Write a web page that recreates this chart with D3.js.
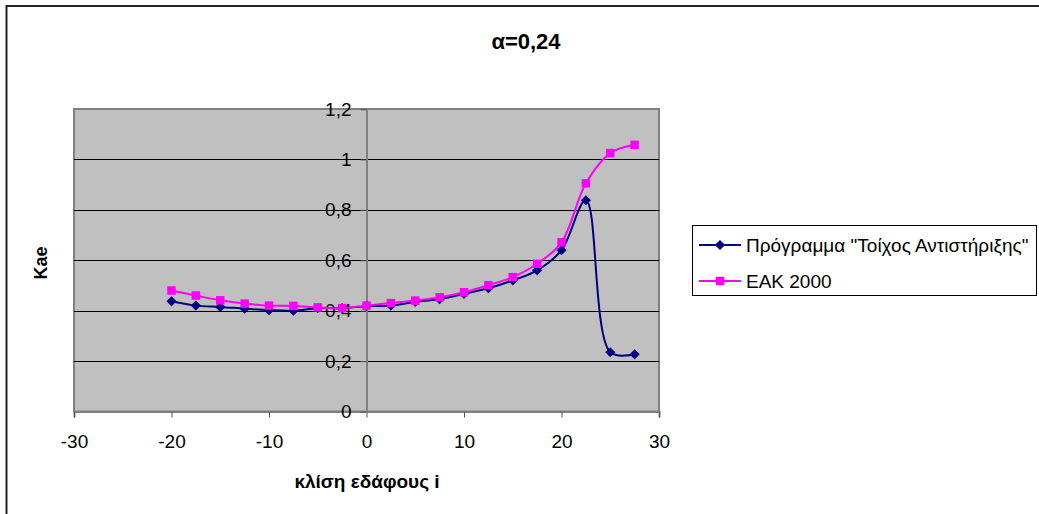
<!DOCTYPE html>
<html>
<head>
<meta charset="utf-8">
<script src="https://cdn.jsdelivr.net/npm/d3@7"></script>
<style>
  body { margin: 0; background: #fff; }
  text { font-family: "Liberation Sans", Arial, sans-serif; }
</style>
</head>
<body>
<svg width="1039" height="514"></svg>
<script>
// Data
var slopes = [-20, -17.5, -15, -12.5, -10, -7.5, -5, -2.5, 0, 2.5, 5, 7.5, 10, 12.5, 15, 17.5, 20, 22.5, 25, 27.5];
var programValues = [0.437, 0.42, 0.415, 0.408, 0.402, 0.40, 0.41, 0.41, 0.418, 0.42, 0.435, 0.446, 0.467, 0.489, 0.52, 0.56, 0.64, 0.838, 0.235, 0.227];
var eakValues = [0.48, 0.46, 0.441, 0.428, 0.42, 0.419, 0.413, 0.41, 0.42, 0.43, 0.44, 0.453, 0.473, 0.501, 0.533, 0.586, 0.671, 0.905, 1.025, 1.058];
var seriesNames = ["Πρόγραμμα \"Τοίχος Αντιστήριξης\"", "ΕΑΚ 2000"];
var xTicks = [-30, -20, -10, 0, 10, 20, 30];
var yTicks = [0, 0.2, 0.4, 0.6, 0.8, 1, 1.2];

var svg = d3.select("svg");

// outer chart border (cut off on right / bottom)
svg.append("path")
    .attr("d", "M6.5,520 V6 H1045")
    .attr("fill", "none")
    .attr("stroke", "#222")
    .attr("stroke-width", 2);

// plot area
var plot = { left: 74, right: 659, top: 109, bottom: 411.5 };

var x = d3.scaleLinear().domain([-30, 30]).range([plot.left, plot.right]);
var y = d3.scaleLinear().domain([0, 1.2]).range([plot.bottom, plot.top]);

svg.append("rect")
    .attr("x", plot.left).attr("y", plot.top)
    .attr("width", plot.right - plot.left)
    .attr("height", plot.bottom - plot.top)
    .attr("fill", "#c0c0c0")
    .attr("stroke", "#808080")
    .attr("stroke-width", 2);

// gridlines
svg.append("g").selectAll("line")
    .data(yTicks.filter(d => d > 0 && d < 1.2))
    .enter().append("line")
    .attr("x1", plot.left).attr("x2", plot.right)
    .attr("y1", d => Math.round(y(d)) + 0.5).attr("y2", d => Math.round(y(d)) + 0.5)
    .attr("stroke", "#000")
    .attr("stroke-width", 1);

var fmt = d => String(d).replace(".", ",");

// x axis at y = 0
var xAxis = svg.append("g")
    .attr("transform", "translate(0," + y(0) + ")")
    .call(d3.axisBottom(x).tickValues(xTicks).tickSize(6).tickPadding(17).tickFormat(fmt));

// y axis at x = 0
var yAxis = svg.append("g")
    .attr("transform", "translate(" + x(0) + ",0)")
    .call(d3.axisLeft(y).tickValues(yTicks).tickSize(6).tickPadding(9).tickFormat(fmt));

[xAxis, yAxis].forEach(function(a) {
    a.select(".domain").attr("stroke", "#808080").attr("stroke-width", 2);
    a.selectAll(".tick line").attr("stroke", "#555");
    a.selectAll(".tick text")
        .attr("fill", "#000")
        .style("font-family", "'Liberation Sans', Arial, sans-serif")
        .style("font-size", "19px");
});

// series (diamond = square turned 45 degrees, like Excel's marker)
var series = [
    { name: seriesNames[0], values: programValues, color: "#000080", size: 52, rot: 45 },
    { name: seriesNames[1], values: eakValues, color: "#ff00ff", size: 72, rot: 0 }
];

var line = d3.line()
    .x(d => x(d[0]))
    .y(d => y(d[1]))
    .curve(d3.curveCatmullRom.alpha(0.5));

series.forEach(function(s) {
    var pts = slopes.map((v, i) => [v, s.values[i]]);
    svg.append("path")
        .datum(pts)
        .attr("d", line)
        .attr("fill", "none")
        .attr("stroke", s.color)
        .attr("stroke-width", 2);
    svg.append("g").selectAll("path")
        .data(pts)
        .enter().append("path")
        .attr("d", d3.symbol().type(d3.symbolSquare).size(s.size))
        .attr("transform", d => "translate(" + x(d[0]) + "," + y(d[1]) + ") rotate(" + s.rot + ")")
        .attr("fill", s.color);
});

// title
svg.append("text")
    .attr("x", 526).attr("y", 49)
    .attr("text-anchor", "middle")
    .style("font-weight", "bold")
    .style("font-size", "22px")
    .text("α=0,24");

// axis titles
svg.append("text")
    .attr("x", 367).attr("y", 488)
    .attr("text-anchor", "middle")
    .style("font-weight", "bold")
    .style("font-size", "19px")
    .text("κλίση εδάφους i");

svg.append("text")
    .attr("transform", "translate(47,263) rotate(-90)")
    .attr("text-anchor", "middle")
    .style("font-weight", "bold")
    .style("font-size", "18px")
    .text("Kae");

// legend
var legend = svg.append("g");
legend.append("rect")
    .attr("x", 692.5).attr("y", 225.5)
    .attr("width", 344).attr("height", 70)
    .attr("fill", "#fff")
    .attr("stroke", "#000")
    .attr("stroke-width", 1);

var legendY = [245, 281];
series.forEach(function(s, i) {
    var g = legend.append("g").attr("transform", "translate(0," + legendY[i] + ")");
    g.append("line")
        .attr("x1", 699).attr("x2", 741)
        .attr("stroke", s.color).attr("stroke-width", 2);
    g.append("path")
        .attr("d", d3.symbol().type(d3.symbolSquare).size(s.size))
        .attr("transform", "translate(720,0) rotate(" + s.rot + ")")
        .attr("fill", s.color);
    g.append("text")
        .attr("x", 746).attr("y", 7)
        .style("font-size", "19px")
        .text(s.name);
});
</script>
</body>
</html>
